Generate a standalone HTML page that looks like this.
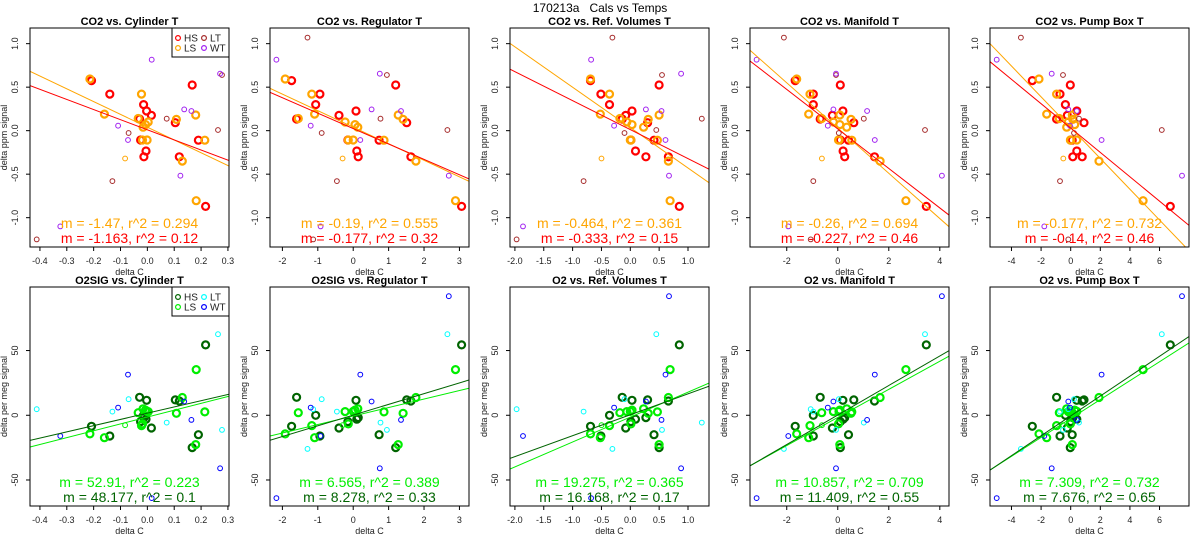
<!DOCTYPE html>
<html><head><meta charset="utf-8"><style>
body{margin:0;background:#fff;}
svg{display:block;font-family:"Liberation Sans",sans-serif;}
</style></head><body>
<svg id="chart" width="1200" height="550" viewBox="0 0 1200 550" xmlns="http://www.w3.org/2000/svg">
<rect width="1200" height="550" fill="#fff"/>
<text x="600" y="12" text-anchor="middle" font-size="12" xml:space="preserve">170213a   Cals vs Temps</text>
</svg>
<script>
// ---- data ----
const groups = ["HS","HS","HS","HS","HS","HS","HS","HS","HS","HS","HS","HS","HS","HS",
 "LS","LS","LS","LS","LS","LS","LS","LS","LS","LS","LS","LS","LS","LS","LS",
 "LT","LT","LT","LT","LT","LT","LT",
 "WT","WT","WT","WT","WT","WT","WT","WT"];
const thick = [1,1,1,1,1,1,1,1,1,1,1,1,1,1, 1,1,1,1,1,1,1,1,1,1,1,1,1,1,0, 0,0,0,0,0,0,0, 0,0,0,0,0,0,0,0];
const xCylinder = [-0.208,-0.14,-0.014,-0.003,0.015,-0.029,-0.025,-0.005,-0.013,0.104,0.119,0.167,0.19,0.217,
 -0.214,-0.16,-0.022,-0.034,0.003,-0.007,-0.016,-0.018,-0.001,0.108,0.13,0.18,0.214,0.182,-0.083,
 -0.412,-0.07,-0.13,0.072,0.263,0.278,0.40,
 0.016,-0.109,-0.072,0.137,0.164,0.123,0.271,-0.324];
const xRegulator = [-1.74,-0.94,-1.06,0.08,-0.40,-1.60,-0.15,0.10,0.14,1.51,1.63,1.20,0.73,3.06,
 -1.92,-1.09,-1.17,-1.55,-0.23,0.05,0.13,-0.14,0.0,1.41,1.77,1.27,0.87,2.89,-0.30,
 -1.13,-0.89,-0.46,0.77,2.66,0.95,-1.29,
 -2.17,-1.20,0.20,0.52,1.35,2.70,0.75,-0.92];
const xRefVol = [-0.69,-0.51,-0.36,0.03,-0.08,-0.14,0.01,0.09,0.27,0.30,0.66,0.50,0.41,0.85,
 -0.69,-0.52,-0.36,-0.18,-0.06,0.03,0.23,0.01,0.0,0.31,0.66,0.50,0.47,0.69,-0.50,
 -1.97,-0.10,-0.81,1.24,0.45,0.55,-0.31,
 -0.68,-0.28,0.61,0.27,0.54,0.67,0.88,-1.86];
const xManifold = [-1.67,-0.96,-0.96,0.20,-0.21,-0.69,0.10,0.21,0.27,0.63,1.44,0.10,0.42,3.47,
 -1.61,-1.14,-1.09,-0.63,-0.17,0.08,0.35,0.03,0.05,0.52,1.66,0.08,0.55,2.67,-0.62,
 -1.06,0.04,-0.96,1.02,3.42,-0.07,-2.11,
 -3.18,-0.39,1.45,-0.17,1.15,4.08,-0.07,-1.94];
const xPumpBox = [-2.59,-0.72,-0.36,0.41,-0.23,-0.95,0.0,0.41,0.14,0.90,0.78,-0.03,0.10,6.73,
 -2.14,-1.62,-0.95,-0.77,-0.16,0.27,-0.27,-0.02,0.41,0.14,1.91,0.11,0.0,4.89,-0.50,
 -0.16,0.22,-0.72,0.56,6.15,-0.52,-3.36,
 -5.0,-0.05,2.09,-0.16,0.41,7.52,-1.28,-1.78];
const yCO2 = [0.575,0.42,0.30,0.226,0.176,0.134,-0.107,-0.234,-0.30,0.092,-0.30,0.525,-0.11,-0.87,
 0.594,0.19,0.42,0.14,0.10,0.07,0.04,-0.107,-0.107,0.13,-0.35,0.18,-0.11,-0.805,-0.32,
 -1.25,-0.027,-0.58,0.138,0.008,0.64,1.07,
 0.816,0.057,-0.107,0.245,0.226,-0.517,0.655,-1.10];
const yO2 = [-8.5,-16,0,11.6,-9.8,13.9,-4.9,-3,-1.8,11.9,11,-25,-15,54.4,
 -14.4,-17.3,-8,2,2.8,4,5,-6.7,3,1.5,13.7,-22.7,2.6,35.3,-7.7,
 4.7,12.4,2.8,-5.7,62.6,-11.3,-26,
 -64,5.9,31.4,10.6,-3.6,92,-41,-16];
// fits
const slopeCO2LS = [-1.47,-0.19,-0.464,-0.26,-0.177];
const interCO2LS = [0.04,0.04,0.035,0.03,0.035];
const r2CO2LS = ["0.294","0.555","0.361","0.694","0.732"];
const slopeCO2HS = [-1.163,-0.177,-0.333,-0.227,-0.14];
const interCO2HS = [0.01,0.024,0.012,0.02,0.03];
const r2CO2HS = ["0.12","0.32","0.15","0.46","0.46"];
const slopeO2LS = [52.91,6.565,19.275,10.857,7.309];
const interO2LS = [-1.4,-0.57,-1.4,-1.7,-2.5];
const r2O2LS = ["0.223","0.389","0.365","0.709","0.732"];
const slopeO2HS = [48.177,8.278,16.168,11.409,7.676];
const interO2HS = [1.6,0.15,0.4,0.2,-0.5];
const r2O2HS = ["0.1","0.33","0.17","0.55","0.65"];
const titlesCO2 = ["CO2 vs. Cylinder T","CO2 vs. Regulator T","CO2 vs. Ref. Volumes T","CO2 vs. Manifold T","CO2 vs. Pump Box T"];
const titlesO2 = ["O2SIG vs. Cylinder T","O2SIG vs. Regulator T","O2 vs. Ref. Volumes T","O2 vs. Manifold T","O2 vs. Pump Box T"];
const xTicks = [[-0.4,-0.3,-0.2,-0.1,0.0,0.1,0.2,0.3],[-2,-1,0,1,2,3],[-2.0,-1.5,-1.0,-0.5,0.0,0.5,1.0],[-2,0,2,4],[-4,-2,0,2,4,6]];
const xTickLabels = [["-0.4","-0.3","-0.2","-0.1","0.0","0.1","0.2","0.3"],["-2","-1","0","1","2","3"],["-2.0","-1.5","-1.0","-0.5","0.0","0.5","1.0"],["-2","0","2","4"],["-4","-2","0","2","4","6"]];
const yTicksCO2 = [-1.0,-0.5,0.0,0.5,1.0];
const yTickLabelsCO2 = ["-1.0","-0.5","0.0","0.5","1.0"];
const yTicksO2 = [-50,0,50];
const yTickLabelsO2 = ["-50","0","50"];
const xDomains = [[-0.437,0.304],[-2.35,3.27],[-2.085,1.364],[-3.44,4.36],[-5.45,7.99]];
const xCols = [xCylinder,xRegulator,xRefVol,xManifold,xPumpBox];

const NS="http://www.w3.org/2000/svg";
const svg=document.getElementById('chart');
function mk(tag,attrs,parent){const e=document.createElementNS(NS,tag);for(const k in attrs)e.setAttribute(k,attrs[k]);(parent||svg).appendChild(e);return e;}

const rows=[
 {top:28,bot:247,ydom:[-1.337,1.18],y:yCO2,ticks:yTicksCO2,tl:yTickLabelsCO2,titles:titlesCO2,ylab:"delta ppm signal",
  col:{HS:"#ff0000",LS:"#ffa500",LT:"#a52a2a",WT:"#a020f0"},
  sLS:slopeCO2LS,iLS:interCO2LS,rLS:r2CO2LS,sHS:slopeCO2HS,iHS:interCO2HS,rHS:r2CO2HS},
 {top:287,bot:506,ydom:[-70.1,99.1],y:yO2,ticks:yTicksO2,tl:yTickLabelsO2,titles:titlesO2,ylab:"delta per meg signal",
  col:{HS:"#006400",LS:"#00ee00",LT:"#00ffff",WT:"#0000ff"},
  sLS:slopeO2LS,iLS:interO2LS,rLS:r2O2LS,sHS:slopeO2HS,iHS:interO2HS,rHS:r2O2HS}
];

rows.forEach((R,ri)=>{
 for(let p=0;p<5;p++){
  const L=30+240*p, Rt=229+240*p, T=R.top, B=R.bot;
  const xd=xDomains[p];
  const sx=v=>L+(v-xd[0])/(xd[1]-xd[0])*(Rt-L);
  const sy=v=>B-(v-R.ydom[0])/(R.ydom[1]-R.ydom[0])*(B-T);
  const g=mk('g',{});
  
  
  const cid='clip'+ri+'_'+p;
  const cp=mk('clipPath',{id:cid},g);mk('rect',{x:L,y:T,width:Rt-L,height:B-T},cp);
  const tt=mk('text',{x:(L+Rt)/2,y:T-3,'text-anchor':'middle','font-size':11,'font-weight':'bold'},g);
  tt.textContent=R.titles[p];
  
  
  const pg=mk('g',{'clip-path':'url(#'+cid+')'},g);
  const xs=xCols[p];
  for(let i=0;i<xs.length;i++){
   const c=mk('circle',{cx:sx(xs[i]).toFixed(1),cy:sy(R.y[i]).toFixed(1),r:thick[i]?3.5:2.4,fill:'none',stroke:R.col[groups[i]],'stroke-width':thick[i]?2.2:1},pg);
   
   
  }
  [["LS",R.sLS,R.iLS],["HS",R.sHS,R.iHS]].forEach(([gname,s,ic])=>{
   const ln=mk('line',{x1:sx(xd[0]),y1:sy(ic[p]+s[p]*xd[0]),x2:sx(xd[1]),y2:sy(ic[p]+s[p]*xd[1]),stroke:R.col[gname],'stroke-width':1},pg);
   
   
  });
  const a1=mk('text',{x:(L+Rt)/2,y:T+200,'text-anchor':'middle','font-size':14,fill:R.col.LS},g);
  a1.textContent='m = '+R.sLS[p]+', r^2 = '+R.rLS[p];
  
  
  const a2=mk('text',{x:(L+Rt)/2,y:T+215,'text-anchor':'middle','font-size':14,fill:R.col.HS},g);
  a2.textContent='m = '+R.sHS[p]+', r^2 = '+R.rHS[p];
  
  
  const bx=mk('rect',{x:L,y:T,width:Rt-L,height:B-T,fill:'none',stroke:'#000','stroke-width':1},g);
  
  
  xTicks[p].forEach((v,k)=>{
   const X=sx(v);
   mk('line',{x1:X,y1:B,x2:X,y2:B+4,stroke:'#000'},g);
   const t=mk('text',{x:X,y:B+17,'text-anchor':'middle','font-size':9,fill:'#222'},g);
   t.textContent=xTickLabels[p][k];
   
   
  });
  const xl=mk('text',{x:(L+Rt)/2,y:B+28,'text-anchor':'middle','font-size':9,fill:'#222'},g);
  xl.textContent='delta C';
  
  
  R.ticks.forEach((v,k)=>{
   const Y=sy(v);
   mk('line',{x1:L-4,y1:Y,x2:L,y2:Y,stroke:'#000'},g);
   const t=mk('text',{x:0,y:0,'text-anchor':'middle','font-size':9,fill:'#222',transform:'translate('+(L-12)+','+Y+') rotate(-90)'},g);
   t.textContent=R.tl[k];
   
   
  });
  const yl=mk('text',{x:0,y:0,'text-anchor':'middle','font-size':9,fill:'#222',transform:'translate('+(L-23)+','+((T+B)/2)+') rotate(-90)'},g);
  yl.textContent=R.ylab;
  
  
  if(p===0){
   const lg=mk('g',{},g);
   
   
   mk('rect',{x:172,y:T,width:57,height:29,fill:'#fff',stroke:'#000'},lg);
   [["HS",178,10],["LT",204,10],["LS",178,20],["WT",204,20]].forEach(([nm,cx,dy])=>{
    mk('circle',{cx:cx,cy:T+dy,r:2.4,fill:'none',stroke:R.col[nm],'stroke-width':1.2},lg);
    const t=mk('text',{x:cx+6,y:T+dy+3.5,'font-size':10,fill:'#222'},lg);
    t.textContent=nm;
    
    
   });
  }
 }
});
</script>
</body></html>
